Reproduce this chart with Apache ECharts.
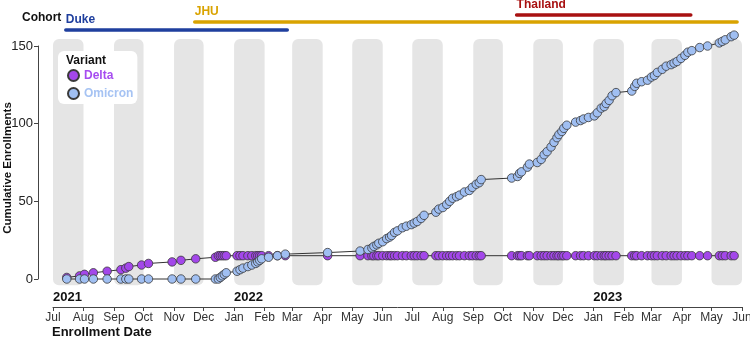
<!DOCTYPE html>
<html>
<head>
<meta charset="utf-8">
<script src="https://cdn.jsdelivr.net/npm/echarts@6/dist/echarts.min.js"></script>
<style>
  html, body { margin: 0; padding: 0; background: #fff; }
  #chart { width: 750px; height: 339px; }
</style>
</head>
<body>
<div id="chart"></div>
<script>
// enrollment dates and cumulative counts per variant
const enrollDates = [
  '2021-07-15','2021-07-28','2021-08-02','2021-08-11','2021-08-25','2021-09-08','2021-09-13','2021-09-16',
  '2021-09-29','2021-10-06','2021-10-30','2021-11-08','2021-11-23','2021-12-13','2021-12-16','2021-12-18',
  '2021-12-20','2021-12-22','2021-12-24',
  '2022-01-04','2022-01-07','2022-01-10','2022-01-15','2022-01-19','2022-01-23','2022-01-25','2022-01-27',
  '2022-01-29','2022-02-05','2022-02-14','2022-02-22','2022-04-06','2022-05-09','2022-05-17','2022-05-21',
  '2022-05-23','2022-05-26','2022-05-28','2022-06-01','2022-06-05','2022-06-08','2022-06-10','2022-06-13',
  '2022-06-16','2022-06-21','2022-06-25','2022-06-30','2022-07-03','2022-07-06','2022-07-10','2022-07-13',
  '2022-07-25','2022-07-28','2022-08-01','2022-08-05','2022-08-08','2022-08-11','2022-08-15','2022-08-18',
  '2022-08-23','2022-08-28','2022-08-31','2022-09-04','2022-09-07','2022-09-09','2022-10-10','2022-10-16',
  '2022-10-18','2022-10-20','2022-10-26','2022-10-28','2022-11-05','2022-11-09','2022-11-12','2022-11-15',
  '2022-11-19','2022-11-22','2022-11-25','2022-11-27','2022-11-30','2022-12-02','2022-12-05','2022-12-14',
  '2022-12-19','2022-12-22','2022-12-27',
  '2023-01-02','2023-01-05','2023-01-09','2023-01-12','2023-01-14','2023-01-17','2023-01-20','2023-01-24',
  '2023-02-09','2023-02-12','2023-02-14','2023-02-19','2023-02-25','2023-03-01','2023-03-04','2023-03-07',
  '2023-03-12','2023-03-16','2023-03-21','2023-03-24','2023-03-27','2023-03-31','2023-04-04','2023-04-07',
  '2023-04-11','2023-04-19','2023-04-27','2023-05-09','2023-05-12','2023-05-15','2023-05-21','2023-05-24'
];
const deltaCum = [
  1,2,3,4,5,6,7,8,9,10,11,12,13,14,15,15,15,15,15,
  15,15,15,15,15,15,15,15,15,15,15,15,15,15,15,15,15,15,15,15,15,15,15,15,15,15,15,15,15,15,15,15,
  15,15,15,15,15,15,15,15,15,15,15,15,15,15,15,15,15,15,15,15,15,15,15,15,15,15,15,15,15,15,15,15,
  15,15,15,
  15,15,15,15,15,15,15,15,15,15,15,15,15,15,15,15,15,15,15,15,15,15,15,15,15,15,15,15,15,15,15,15
];
const omicronCum = [
  0,0,0,0,0,0,0,0,0,0,0,0,0,0,0,1,2,3,4,
  5,6,7,8,9,10,11,12,13,14,15,16,17,18,19,20,21,22,23,24,26,27,28,30,31,33,34,35,36,37,39,41,
  43,45,46,48,50,52,53,54,56,57,59,61,62,64,65,66,68,69,72,74,75,77,80,82,85,88,91,93,95,97,99,101,
  102,103,104,
  105,107,110,111,113,115,118,120,121,124,126,127,128,130,131,133,135,137,138,139,140,142,144,146,147,149,150,152,153,154,156,157
];

// cohort enrollment windows
const cohortNames = ['Duke', 'JHU', 'Thailand'];
const cohortStart = ['2021-07-14', '2021-11-22', '2022-10-15'];
const cohortEnd = ['2022-02-24', '2023-05-27', '2023-04-10'];
const cohortColors = ['#1f3f9e', '#d9a300', '#a81111'];
const cohortRise = [16, 24, 31];

const monthNames = ['Jan','Feb','Mar','Apr','May','Jun','Jul','Aug','Sep','Oct','Nov','Dec'];
const yearTicks = ['2021-07-01', '2022-01-01', '2023-01-01'];
const bandMonths = ['2021-07','2021-09','2021-11','2022-01','2022-03','2022-05',
                    '2022-07','2022-09','2022-11','2023-01','2023-03','2023-05'];

const FONT = "'Liberation Sans Narrow', 'Liberation Sans', Arial, sans-serif";

function ts(s) {
  const p = s.split('-').map(Number);
  return new Date(p[0], p[1] - 1, p[2] || 1).getTime();
}
function nextMonth(s) {
  const p = s.split('-').map(Number);
  return new Date(p[0], p[1], 1).getTime();
}

let monthTicks = [];
for (let i = 0; i <= 23; i++) monthTicks.push(new Date(2021, 6 + i, 1).getTime());

const deltaData = enrollDates.map((d, i) => [ts(d), deltaCum[i]]);
const omicronData = enrollDates.map((d, i) => [ts(d), omicronCum[i]]);
const bandData = bandMonths.map(m => [ts(m), nextMonth(m)]);
const cohortData = cohortNames.map((n, i) => [ts(cohortStart[i]), ts(cohortEnd[i]), i]);

const chart = echarts.init(document.getElementById('chart'));

const option = {
  animation: false,
  textStyle: { fontFamily: FONT },
  grid: { left: 53, right: 8, top: 46, bottom: 60, containLabel: false, outerBoundsMode: 'none' },
  legend: {
    orient: 'vertical',
    left: 58, top: 51,
    padding: [18, 4, 4, 9],
    itemGap: 5,
    itemWidth: 11, itemHeight: 11,
    icon: 'circle',
    backgroundColor: '#fff',
    borderRadius: 6,
    textStyle: { fontFamily: FONT, fontWeight: 'bold', fontSize: 12 },
    data: [
      { name: 'Delta', textStyle: { color: '#a64cf0' } },
      { name: 'Omicron', textStyle: { color: '#a6c3f3' } }
    ]
  },
  graphic: [
    { type: 'text', left: 66, top: 55, z: 100,
      style: { text: 'Variant', font: 'bold 12px ' + FONT, fill: '#111' } },
    { type: 'text', left: 22, top: 12,
      style: { text: 'Cohort', font: 'bold 12px ' + FONT, fill: '#111' } },
    { type: 'text', left: 52, top: 326,
      style: { text: 'Enrollment Date', font: 'bold 13px ' + FONT, fill: '#111' } },
    { type: 'text', x: 8, y: 168, rotation: Math.PI / 2,
      style: { text: 'Cumulative Enrollments', font: 'bold 11.5px ' + FONT, fill: '#111',
               textAlign: 'center', textVerticalAlign: 'middle' } }
  ],
  xAxis: [
    {
      type: 'value',
      min: ts('2021-07-01'), max: ts('2023-06-01'),
      offset: 28,
      splitLine: { show: false },
      axisLine: { show: true, onZero: false, lineStyle: { color: '#444', width: 1 } },
      axisTick: { show: true, customValues: monthTicks, length: 4, lineStyle: { color: '#444' } },
      axisLabel: {
        customValues: monthTicks,
        formatter: v => monthNames[new Date(v).getMonth()],
        color: '#333', fontSize: 12, margin: 5,
        showMinLabel: true, showMaxLabel: true
      }
    },
    {
      type: 'value',
      min: ts('2021-07-01'), max: ts('2023-06-01'),
      position: 'bottom',
      offset: 28,
      splitLine: { show: false },
      axisLine: { show: false, onZero: false },
      axisTick: { show: false },
      axisLabel: {
        inside: true,
        customValues: yearTicks.map(ts),
        formatter: v => String(new Date(v).getFullYear()),
        color: '#111', fontSize: 13, fontWeight: 'bold', margin: 3, align: 'left',
        showMinLabel: true, showMaxLabel: true
      }
    }
  ],
  yAxis: {
    type: 'value',
    position: 'left',
    min: 0, max: 150, interval: 50,
    offset: 15,
    splitLine: { show: false },
    axisLine: { show: true, onZero: false, lineStyle: { color: '#444', width: 1 } },
    axisTick: { show: true, length: 4, lineStyle: { color: '#444' } },
    axisLabel: { color: '#222', fontSize: 13, margin: 5 }
  },
  series: [
    {
      type: 'custom',
      name: 'bands',
      clip: false,
      silent: true,
      z: 0,
      data: bandData,
      renderItem: function (params, api) {
        const p1 = api.coord([api.value(0), 154.5]);
        const p2 = api.coord([api.value(1), -4]);
        return {
          type: 'rect',
          shape: { x: p1[0], y: p1[1], width: p2[0] - p1[0], height: p2[1] - p1[1], r: 6 },
          style: { fill: '#e5e5e5' }
        };
      }
    },
    {
      type: 'custom',
      name: 'cohorts',
      clip: false,
      silent: true,
      data: cohortData,
      renderItem: function (params, api) {
        const x1 = api.coord([api.value(0), 0])[0];
        const x2 = api.coord([api.value(1), 0])[0];
        const i = api.value(2);
        const y = params.coordSys.y - cohortRise[i];
        return {
          type: 'group',
          children: [
            { type: 'line', shape: { x1: x1, y1: y, x2: x2, y2: y },
              style: { stroke: cohortColors[i], lineWidth: 3.5, lineCap: 'round' } },
            { type: 'text', x: x1, y: y - 4,
              style: { text: cohortNames[i], fill: cohortColors[i], font: 'bold 12px ' + FONT,
                       textAlign: 'left', textVerticalAlign: 'bottom' } }
          ]
        };
      }
    },
    {
      name: 'Delta',
      type: 'line',
      data: deltaData,
      clip: false,
      symbol: 'circle',
      symbolSize: 8.5,
      lineStyle: { color: '#333', width: 1 },
      itemStyle: { color: '#a347ea', borderColor: '#3a3a3a', borderWidth: 0.8 },
      z: 3
    },
    {
      name: 'Omicron',
      type: 'line',
      data: omicronData,
      clip: false,
      symbol: 'circle',
      symbolSize: 8.5,
      lineStyle: { color: '#333', width: 1 },
      itemStyle: { color: '#a0bff2', borderColor: '#3a3a3a', borderWidth: 0.8 },
      z: 3
    }
  ]
};

chart.setOption(option);
</script>
</body>
</html>
